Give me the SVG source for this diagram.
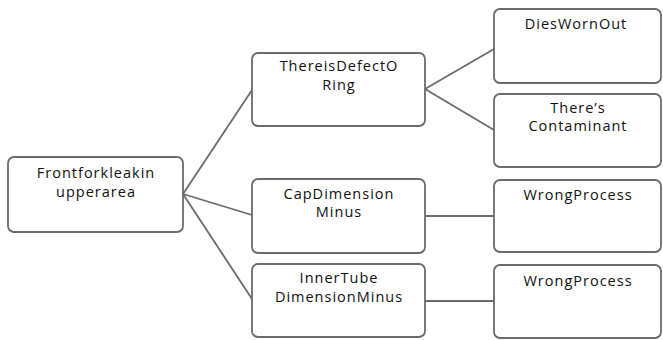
<svg xmlns="http://www.w3.org/2000/svg" width="663" height="340" viewBox="0 0 663 340">
<style>
.box{fill:#fff;stroke:#6b6b6b;stroke-width:1.8}
.t{font-family:"Open Sans","Noto Sans",sans-serif;font-size:14.5px;letter-spacing:1px;fill:#111;text-anchor:middle}
.c{stroke:#6b6b6b;stroke-width:1.8;fill:none}
</style>
<rect width="663" height="340" fill="#fff"/>
<g id="connectors">
<line class="c" x1="183" y1="194" x2="252" y2="90"/>
<line class="c" x1="183" y1="194" x2="252" y2="215"/>
<line class="c" x1="183" y1="194" x2="252" y2="299"/>
<line class="c" x1="425" y1="89" x2="494" y2="49"/>
<line class="c" x1="425" y1="89" x2="494" y2="130"/>
<line class="c" x1="425" y1="216" x2="494" y2="216"/>
<line class="c" x1="425" y1="301" x2="494" y2="301"/>
</g>
<g id="root">
<rect class="box" x="8" y="157" width="175" height="75" rx="6"/>
<text class="t" x="96" y="178">Frontforkleakin</text>
<text class="t" x="96" y="197">upperarea</text>
</g>
<g id="defect">
<rect class="box" x="252" y="53" width="173" height="73" rx="6"/>
<text class="t" x="339" y="71">ThereisDefectO</text>
<text class="t" x="339" y="89.5">Ring</text>
</g>
<g id="cap">
<rect class="box" x="252" y="179" width="173" height="74" rx="6"/>
<text class="t" x="339" y="199">CapDimension</text>
<text class="t" x="339" y="217">Minus</text>
</g>
<g id="inner">
<rect class="box" x="252" y="264" width="173" height="73" rx="6"/>
<text class="t" x="339" y="283">InnerTube</text>
<text class="t" x="339" y="302">DimensionMinus</text>
</g>
<g id="dies">
<rect class="box" x="494" y="9" width="167" height="74" rx="6"/>
<text class="t" x="576" y="29">DiesWornOut</text>
</g>
<g id="contaminant">
<rect class="box" x="494" y="94" width="167" height="73" rx="6"/>
<text class="t" x="578" y="113">There’s</text>
<text class="t" x="578" y="131">Contaminant</text>
</g>
<g id="wrong1">
<rect class="box" x="494" y="180" width="167" height="72" rx="6"/>
<text class="t" x="578" y="200">WrongProcess</text>
</g>
<g id="wrong2">
<rect class="box" x="494" y="265" width="167" height="73" rx="6"/>
<text class="t" x="578" y="286">WrongProcess</text>
</g>
</svg>
